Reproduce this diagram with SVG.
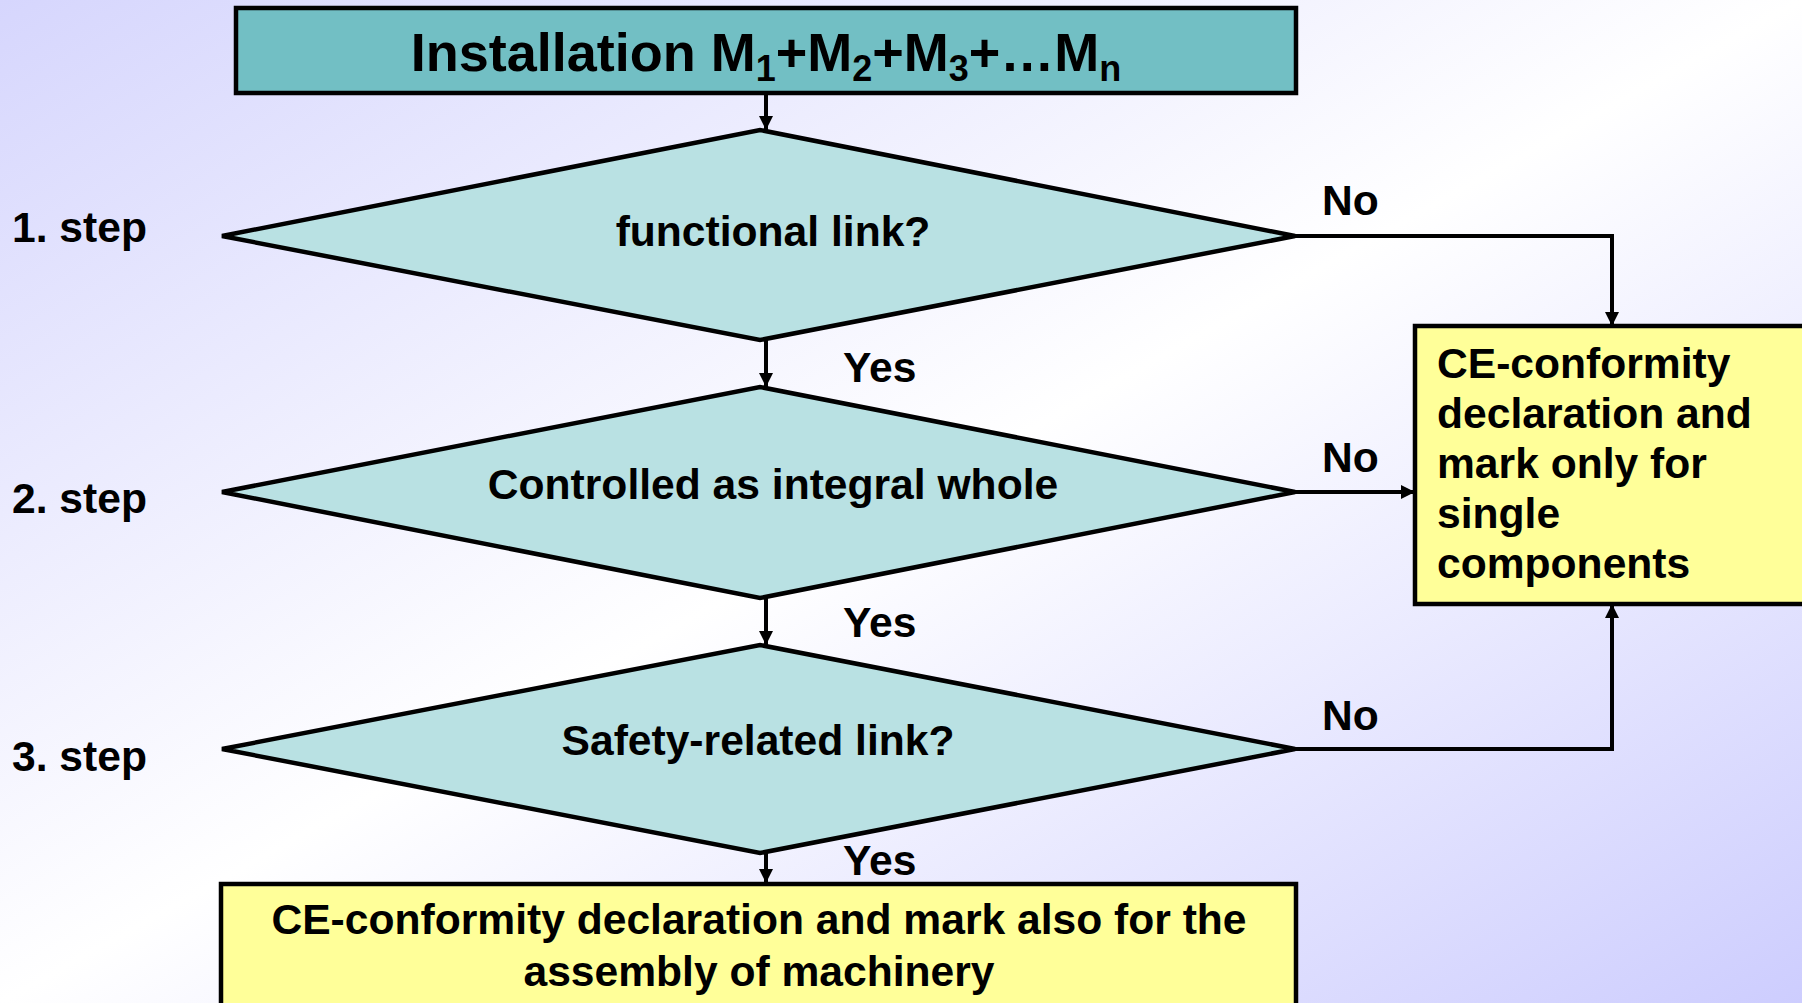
<svg xmlns="http://www.w3.org/2000/svg" width="1802" height="1003" viewBox="0 0 1802 1003">
<defs>
<linearGradient id="bg" x1="0" y1="0" x2="1" y2="1">
<stop offset="0" stop-color="#d6d6fd"/>
<stop offset="0.5" stop-color="#ffffff"/>
<stop offset="1" stop-color="#cdcdfe"/>
</linearGradient>
<marker id="ah" markerUnits="userSpaceOnUse" markerWidth="16" markerHeight="16" refX="14" refY="7" orient="auto">
<path d="M0,0 L14,7 L0,14 z" fill="#000"/>
</marker>
<style>
text{font-family:"Liberation Sans",Arial,sans-serif;font-weight:bold;fill:#000;font-size:42.6px}
.box{stroke:#000;stroke-width:4.5}
.teal{fill:#72bfc4}
.dia{fill:#b9e1e3;stroke:#000;stroke-width:4.5;stroke-linejoin:miter}
.yel{fill:#ffff99}
.con{fill:none;stroke:#000;stroke-width:4}
.mid{text-anchor:middle}
.title{font-size:54px}
.sub{font-size:36px}
</style>
</defs>
<rect x="0" y="0" width="1802" height="1003" fill="url(#bg)"/>
<g id="labels">
<text x="12" y="242">1. step</text>
<text x="12" y="513">2. step</text>
<text x="12" y="771">3. step</text>
</g>
<g id="connectors">
<line class="con" x1="766" y1="95" x2="766" y2="130" marker-end="url(#ah)"/>
<line class="con" x1="766" y1="340" x2="766" y2="387" marker-end="url(#ah)"/>
<line class="con" x1="766" y1="598" x2="766" y2="645" marker-end="url(#ah)"/>
<line class="con" x1="766" y1="853" x2="766" y2="883" marker-end="url(#ah)"/>
<polyline class="con" points="1295,236 1612,236 1612,326" marker-end="url(#ah)"/>
<line class="con" x1="1295" y1="492" x2="1415" y2="492" marker-end="url(#ah)"/>
<polyline class="con" points="1295,749 1612,749 1612,604" marker-end="url(#ah)"/>
<text x="1322" y="215">No</text>
<text x="1322" y="472">No</text>
<text x="1322" y="730">No</text>
<text x="843" y="382">Yes</text>
<text x="843" y="637">Yes</text>
<text x="843" y="875">Yes</text>
</g>
<g id="start">
<rect class="box teal" x="236" y="8" width="1060" height="85"/>
<text class="mid title" x="766" y="71">Installation M<tspan class="sub" dy="10">1</tspan><tspan dy="-10">+M</tspan><tspan class="sub" dy="10">2</tspan><tspan dy="-10">+M</tspan><tspan class="sub" dy="10">3</tspan><tspan dy="-10">+…M</tspan><tspan class="sub" dy="10">n</tspan></text>
</g>
<g id="d1">
<polygon class="dia" points="222,236 760,130 1295,236 760,340"/>
<text class="mid" x="773" y="246">functional link?</text>
</g>
<g id="d2">
<polygon class="dia" points="222,492 760,387 1295,492 760,598"/>
<text class="mid" x="773" y="499">Controlled as integral whole</text>
</g>
<g id="d3">
<polygon class="dia" points="222,749 760,645 1295,749 760,853"/>
<text class="mid" x="758" y="755">Safety-related link?</text>
</g>
<g id="single">
<rect class="box yel" x="1415" y="326" width="400" height="278"/>
<text x="1437" y="378">CE-conformity</text>
<text x="1437" y="428">declaration and</text>
<text x="1437" y="478">mark only for</text>
<text x="1437" y="528">single</text>
<text x="1437" y="578">components</text>
</g>
<g id="assembly">
<rect class="box yel" x="221" y="884" width="1075" height="130"/>
<text class="mid" x="759" y="934">CE-conformity declaration and mark also for the</text>
<text class="mid" x="759" y="986">assembly of machinery</text>
</g>
</svg>
